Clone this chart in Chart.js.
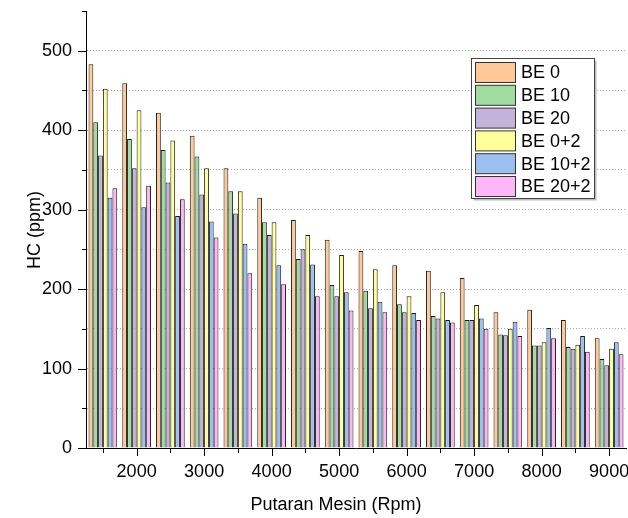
<!DOCTYPE html>
<html>
<head>
<meta charset="utf-8">
<script src="https://cdn.jsdelivr.net/npm/chart.js@4.4.1/dist/chart.umd.min.js"></script>
<style>
  html, body { margin: 0; padding: 0; background: #fff; }
  #wrap { width: 628px; height: 518px; position: relative; }
</style>
</head>
<body>
<div id="wrap"><canvas id="barChart" width="628" height="518"></canvas></div>
<script>
// data
var rpm = [1500, 2000, 2500, 3000, 3500, 4000, 4500, 5000, 5500, 6000, 6500, 7000, 7500, 8000, 8500, 9000];
var be0    = [483, 459, 422, 393, 352, 315, 287, 262, 248, 230, 223, 214, 171, 174, 161, 138];
var be10   = [410, 389, 375, 367, 323, 284, 238, 205, 198, 181, 166, 161, 143, 129, 127, 112];
var be20   = [368, 352, 334, 319, 295, 268, 250, 191, 176, 171, 163, 161, 142, 129, 125, 104];
var be0p2  = [452, 425, 387, 352, 323, 284, 268, 243, 225, 191, 196, 180, 150, 133, 130, 125];
var be10p2 = [315, 303, 292, 285, 257, 230, 231, 196, 184, 170, 161, 163, 159, 151, 141, 133];
var be20p2 = [327, 330, 313, 265, 220, 206, 191, 173, 171, 161, 158, 150, 141, 138, 121, 118];
var yTicks = [0, 100, 200, 300, 400, 500];

var FONT = "'Liberation Sans', Arial, sans-serif";

function ds(label, data, color) {
  return {
    label: label,
    data: data,
    backgroundColor: color,
    borderColor: '#1a1a1a',
    borderWidth: 1,
    borderSkipped: 'bottom',
    categoryPercentage: 0.85,
    barPercentage: 1.0
  };
}

// tick marks, axis titles and the boxed legend
var extras = {
  id: 'extras',
  afterDraw: function (chart) {
    var ctx = chart.ctx;
    var xs = chart.scales.x, ys = chart.scales.y;
    var area = chart.chartArea;
    ctx.save();
    ctx.strokeStyle = '#000';
    ctx.lineWidth = 1;
    ctx.beginPath();
    ys.ticks.forEach(function (t) {
      var py = Math.round(ys.getPixelForValue(t.value)) + 0.5;
      var len = (t.value % 100 === 0) ? 8 : 4;
      ctx.moveTo(area.left, py);
      ctx.lineTo(area.left - len, py);
    });
    rpm.forEach(function (r, i) {
      var px = Math.round(xs.getPixelForValue(i)) + 0.5;
      var len = (r % 1000 === 0) ? 8 : 5;
      ctx.moveTo(px, area.bottom);
      ctx.lineTo(px, area.bottom + len);
    });
    ctx.stroke();

    // axis titles
    ctx.fillStyle = '#000';
    ctx.font = '18px ' + FONT;
    ctx.textAlign = 'center';
    ctx.textBaseline = 'alphabetic';
    ctx.fillText('Putaran Mesin (Rpm)', 336, 510);
    ctx.save();
    ctx.translate(40, 230);
    ctx.rotate(-Math.PI / 2);
    ctx.fillText('HC (ppm)', 0, 0);
    ctx.restore();

    // legend
    var bx = 471.5, by = 58.5, bw = 123, bh = 140;
    ctx.fillStyle = '#bbb';
    ctx.fillRect(bx + 2, by + 2, bw, bh);
    ctx.fillStyle = '#fff';
    ctx.fillRect(bx, by, bw, bh);
    ctx.strokeStyle = '#444';
    ctx.strokeRect(bx, by, bw, bh);
    ctx.font = '18px ' + FONT;
    ctx.textAlign = 'left';
    ctx.textBaseline = 'middle';
    chart.data.datasets.forEach(function (d, i) {
      var sy = 62.5 + i * 22.8;
      ctx.fillStyle = d.backgroundColor;
      ctx.fillRect(475.5, sy, 40, 20);
      ctx.strokeStyle = '#333';
      ctx.strokeRect(475.5, sy, 40, 20);
      ctx.fillStyle = '#000';
      ctx.fillText(d.label, 521, sy + 11);
    });
    ctx.restore();
  }
};

var ctxB = document.getElementById('barChart').getContext('2d');
var myBarChart = new Chart(ctxB, {
  type: 'bar',
  data: {
    labels: rpm,
    datasets: [
      ds('BE 0', be0, '#FFC896'),
      ds('BE 10', be10, '#A0DCA0'),
      ds('BE 20', be20, '#C3B2DA'),
      ds('BE 0+2', be0p2, '#FFFF99'),
      ds('BE 10+2', be10p2, '#9CBFF2'),
      ds('BE 20+2', be20p2, '#FFB6F6')
    ]
  },
  options: {
    responsive: false,
    animation: false,
    layout: { padding: { top: 11, right: 2, left: 0, bottom: 0 } },
    plugins: {
      legend: { display: false },
      tooltip: { enabled: false }
    },
    scales: {
      x: {
        type: 'category',
        offset: true,
        grid: { display: false, drawTicks: false },
        border: { display: true, color: '#000', width: 1 },
        ticks: {
          autoSkip: false,
          maxRotation: 0,
          padding: 13,
          color: '#000',
          font: { family: FONT, size: 18 },
          callback: function (v, i) {
            return rpm[i] % 1000 === 0 ? String(rpm[i]) : '';
          }
        },
        afterFit: function (s) {
          s.height = 70;
          s.paddingLeft = 0;
          s.paddingRight = 0;
        }
      },
      y: {
        min: 0,
        max: 550,
        grid: {
          drawTicks: false,
          color: function (c) {
            var v = c.tick && c.tick.value;
            return (v === 0 || v === 550) ? 'rgba(0,0,0,0)' : '#a8a8a8';
          },
          lineWidth: 1
        },
        border: { display: true, color: '#000', width: 1, dash: [1, 2] },
        ticks: {
          stepSize: 50,
          padding: 14,
          color: '#000',
          font: { family: FONT, size: 18 },
          callback: function (v) {
            return yTicks.indexOf(v) >= 0 ? String(v) : '';
          }
        },
        afterFit: function (s) {
          s.width = 86;
          s.paddingTop = 0;
          s.paddingBottom = 0;
        }
      }
    }
  },
  plugins: [extras]
});
</script>
</body>
</html>
